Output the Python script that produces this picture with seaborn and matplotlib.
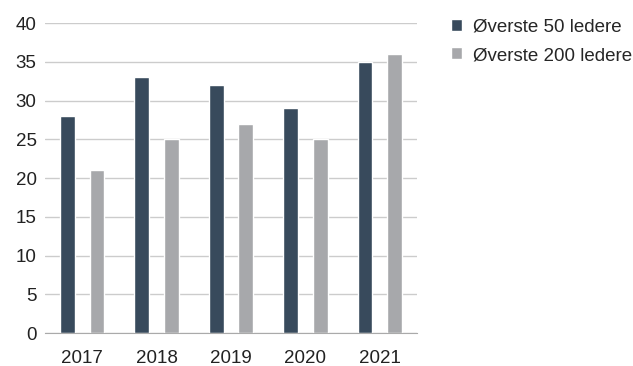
import pandas as pd
import seaborn as sns
from matplotlib import pyplot as plt

years = ["2017", "2018", "2019", "2020", "2021"]
top50 = [28, 33, 32, 29, 35]
top200 = [21, 25, 27, 25, 36]
series_names = ["Øverste 50 ledere", "Øverste 200 ledere"]


def build_frame():
    rows = []
    for year, a, b in zip(years, top50, top200):
        rows.append({"year": year, "series": series_names[0], "value": a})
        rows.append({"year": year, "series": series_names[1], "value": b})
    return pd.DataFrame(rows)


def main():
    data = build_frame()
    sns.set_style("white")
    plt.rcParams["font.family"] = ["Liberation Sans", "DejaVu Sans"]

    fig = plt.figure(figsize=(6.33, 3.66), dpi=100)
    ax = fig.add_axes([0.071, 0.090, 0.588, 0.847])
    sns.barplot(
        data=data, x="year", y="value", hue="series",
        palette=["#384a5c", "#a7a8ab"], width=0.8, gap=0.5,
        saturation=1, ax=ax)

    ax.set_ylim(0, 40)
    ax.set_xlim(-0.5, 4.5)
    ax.set_yticks(range(0, 41, 5))
    ax.yaxis.grid(True, color="#cccccc", linewidth=1)
    ax.set_axisbelow(True)
    for side in ["top", "right", "left"]:
        ax.spines[side].set_visible(False)
    ax.spines["bottom"].set_color("#aaaaaa")
    ax.tick_params(axis="both", length=0, labelsize=13.5, colors="#222222")
    ax.tick_params(axis="y", pad=6)
    ax.tick_params(axis="x", pad=12)
    ax.set_xlabel("")
    ax.set_ylabel("")

    ax.legend(
        loc="upper left", bbox_to_anchor=(1.045, 1.07), frameon=False,
        fontsize=13.5, handlelength=0.6, handleheight=0.6,
        labelspacing=0.63, handletextpad=0.6)

    plt.savefig("out.png", dpi=100)
    plt.close()


main()
